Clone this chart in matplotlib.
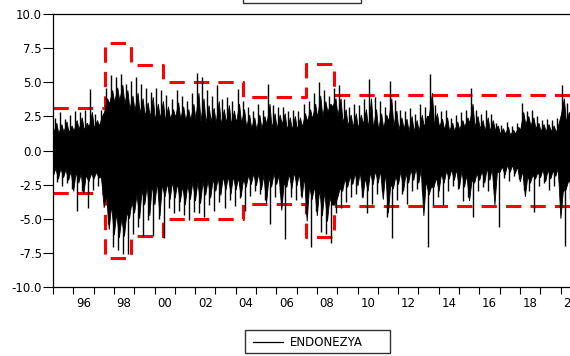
import numpy as np
import matplotlib
matplotlib.use("Agg")
import matplotlib.pyplot as plt
from matplotlib.patches import Rectangle

# quarterly envelope of the daily return series
start_year = 1995.0
# largest spike in each quarter
spike_up = [2.4, 2.8, 2.3, 2.6,  2.9, 2.8, 3.0, 4.5,  2.7, 3.0, 4.6, 5.5,
            5.4, 5.6, 4.9, 5.1,  5.4, 4.9, 4.6, 4.3,  4.6, 4.4, 4.1, 3.8,
            4.4, 4.0, 3.6, 4.2,  5.7, 5.4, 4.4, 4.0,  4.8, 3.8, 3.9, 3.6,
            4.5, 3.6, 3.2, 2.9,  3.4, 3.0, 4.9, 3.3,  3.2, 3.2, 2.9, 3.0,
            2.9, 3.4, 3.6, 4.2,  5.0, 4.4, 4.0, 4.6,  4.8, 3.8, 3.2, 3.4,
            3.3, 3.8, 5.25, 3.9, 3.6, 3.2, 5.1, 3.7,  3.0, 2.9, 3.1, 2.7,
            3.4, 3.2, 5.6, 3.3,  2.9, 3.0, 2.4, 2.6,  2.8, 3.0, 4.6, 3.0,
            2.7, 3.0, 2.7, 2.0,  1.9, 2.1, 1.8, 2.0,  3.5, 2.9, 3.0, 2.5,
            2.2, 2.3, 2.2, 2.4,  4.8, 3.5]
spike_dn = [-2.3, -2.6, -2.4, -2.8,  -4.4, -3.0, -4.2, -2.9,  -2.6, -2.4, -5.4, -7.1,
            -7.3, -7.6, -7.6, -6.1,  -5.6, -6.3, -5.1, -6.3,  -5.0, -6.4, -4.2, -4.6,
            -4.4, -4.7, -5.1, -4.5,  -4.6, -4.9, -4.0, -4.4,  -3.8, -4.2, -3.6, -4.1,
            -3.5, -4.4, -3.3, -3.0,  -3.2, -3.6, -5.4, -3.4,  -3.1, -6.5, -3.4, -3.6,
            -3.3, -4.6, -7.1, -4.4,  -6.0, -6.1, -6.8, -4.6,  -4.2, -3.8, -3.4, -3.2,
            -3.4, -4.6, -3.9, -3.2,  -3.0, -4.9, -6.4, -3.6,  -3.2, -3.9, -3.0, -2.8,
            -3.0, -7.1, -4.0, -3.4,  -4.0, -3.0, -2.6, -2.8,  -3.7, -3.4, -4.9, -3.0,
            -2.7, -3.0, -2.8, -5.6,  -2.0, -2.2, -1.9, -2.1,  -2.9, -3.0, -4.5, -2.6,
            -2.4, -2.9, -2.6, -2.3,  -7.0, -3.5]
# second-tier spikes in each quarter
mid_up = [2.0, 1.9, 2.1, 1.8,  2.2, 2.4, 2.0, 2.8,  2.2, 2.5, 3.8, 4.4,
          4.6, 4.8, 4.4, 4.0,  4.2, 3.8, 3.5, 3.9,  3.4, 3.6, 3.2, 3.0,
          3.5, 3.2, 3.0, 3.4,  4.2, 3.8, 3.3, 3.1,  3.6, 3.0, 3.3, 2.9,
          3.4, 3.0, 2.6, 2.4,  2.6, 2.5, 3.4, 2.7,  2.6, 2.7, 2.4, 2.5,
          2.4, 2.7, 3.0, 3.4,  4.0, 3.6, 3.4, 3.8,  3.8, 3.0, 2.6, 2.7,
          2.6, 3.0, 3.8, 3.0,  2.7, 2.6, 3.8, 2.9,  2.4, 2.3, 2.5, 2.2,
          2.6, 2.5, 4.2, 2.7,  2.3, 2.4, 2.0, 2.1,  2.2, 2.4, 3.4, 2.5,
          2.2, 2.4, 2.2, 1.8,  1.6, 1.7, 1.5, 1.7,  2.8, 2.5, 2.4, 2.0,
          1.9, 1.9, 1.8, 2.0,  3.8, 2.8]
mid_dn = [-1.9, -2.1, -2.0, -2.2,  -3.0, -2.4, -3.2, -2.3,  -2.1, -2.0, -4.2, -5.8,
          -6.2, -6.4, -6.3, -5.0,  -4.6, -5.0, -4.0, -4.8,  -4.0, -4.8, -3.4, -3.6,
          -3.5, -3.8, -4.0, -3.6,  -3.7, -3.9, -3.3, -3.5,  -3.0, -3.3, -2.9, -3.2,
          -2.9, -3.4, -2.7, -2.5,  -2.6, -2.9, -3.9, -2.7,  -2.5, -4.4, -2.7, -2.8,
          -2.6, -3.5, -5.2, -3.6,  -4.8, -4.8, -5.2, -4.0,  -3.5, -3.0, -2.7, -2.5,
          -2.6, -3.5, -3.0, -2.5,  -2.4, -3.6, -4.6, -2.8,  -2.5, -3.0, -2.4, -2.2,
          -2.4, -4.8, -3.3, -2.7,  -3.0, -2.4, -2.1, -2.2,  -2.8, -2.7, -3.7, -2.4,
          -2.2, -2.4, -2.2, -4.0,  -1.6, -1.8, -1.6, -1.7,  -2.3, -3.4, -2.4, -2.1,
          -2.0, -2.3, -2.1, -1.9,  -5.0, -2.9]
# dense band of everyday moves
core_up = [1.3, 1.2, 1.3, 1.3,  1.4, 1.5, 1.5, 1.7,  1.6, 1.8, 2.8, 3.4,
           3.5, 3.6, 3.4, 3.0,  2.9, 2.7, 2.5, 2.4,  2.2, 2.3, 2.2, 2.3,
           2.4, 2.3, 2.2, 2.2,  2.3, 2.1, 2.0, 2.1,  2.0, 1.9, 2.0, 1.9,
           2.0, 2.0, 1.7, 1.6,  1.5, 1.6, 1.9, 1.6,  1.6, 1.9, 1.5, 1.5,
           1.5, 1.7, 2.1, 2.3,  2.4, 2.5, 2.8, 3.2,  2.5, 2.0, 1.8, 1.7,
           1.6, 1.9, 1.6, 1.6,  1.5, 1.6, 2.1, 1.8,  1.5, 1.6, 1.4, 1.4,
           1.4, 1.7, 2.5, 1.9,  1.7, 1.5, 1.4, 1.4,  1.5, 1.7, 2.0, 1.7,
           1.6, 1.4, 1.4, 1.5,  1.2, 1.2, 1.1, 1.2,  1.5, 1.9, 1.8, 1.6,
           1.4, 1.4, 1.4, 1.3,  2.6, 2.1]
core_dn = [-1.3, -1.3, -1.4, -1.5,  -1.6, -1.7, -1.8, -1.7,  -1.6, -2.0, -3.2, -4.0,
           -4.6, -5.0, -4.6, -3.8,  -3.2, -2.9, -2.6, -2.5,  -2.3, -2.5, -2.4, -2.3,
           -2.4, -2.6, -2.5, -2.3,  -2.3, -2.3, -2.2, -2.1,  -2.0, -1.9, -1.9, -1.9,
           -2.0, -2.1, -1.8, -1.7,  -1.7, -1.8, -2.0, -1.7,  -1.8, -2.4, -1.7, -1.6,
           -1.7, -1.9, -2.6, -2.6,  -2.8, -3.0, -3.5, -4.0,  -2.8, -2.1, -1.9, -1.7,
           -1.6, -2.0, -1.6, -1.5,  -1.5, -1.6, -2.5, -1.9,  -1.5, -1.7, -1.4, -1.3,
           -1.4, -2.2, -2.7, -2.0,  -1.7, -1.5, -1.4, -1.4,  -1.5, -1.8, -2.2, -1.7,
           -1.5, -1.3, -1.3, -1.6,  -1.2, -1.1, -1.1, -1.2,  -1.5, -1.9, -1.8, -1.6,
           -1.4, -1.4, -1.5, -1.3,  -3.0, -2.3]

# volatility regime bands (+/- level)
regime_breaks = [1995.0, 1997.56, 1998.84, 2000.42, 2004.36, 2007.46, 2008.84, 2020.75]
regime_levels = [3.15, 7.85, 6.3, 5.0, 3.9, 6.37, 4.1]

year_ticks = list(range(1995, 2021))
year_labels = ["96", "98", "00", "02", "04", "06", "08", "10", "12", "14", "16", "18", "20"]
y_ticks = [-10.0, -7.5, -5.0, -2.5, 0.0, 2.5, 5.0, 7.5, 10.0]
series_name = "ENDONEZYA"

plt.rcParams["font.family"] = ["DejaVu Sans"]
W, H = 570, 356
fig = plt.figure(figsize=(W / 100, H / 100), dpi=100)
x0, x1 = 1995.0, 2020.75
ax_w = (x1 - x0) * 20.3
ax = fig.add_axes([53 / W, (H - 287) / H, ax_w / W, 273 / H])

q = start_year + 0.25 * np.arange(len(spike_up))

# red dashed bands
lv = regime_levels + [regime_levels[-1]]
for sgn in (1, -1):
    ax.step(regime_breaks, [sgn * v for v in lv], where="post", color="#ff0000",
            lw=2.2, linestyle=(0, (5, 3)), zorder=2)

# series: jagged dense mass (core <-> second-tier peaks) + largest spikes
ux = np.column_stack([q + 0.04, q + 0.19]).ravel()
uy = np.column_stack([core_up, mid_up]).ravel()
lx_ = np.column_stack([q + 0.02, q + 0.14]).ravel()
ly_ = np.column_stack([mid_dn, core_dn]).ravel()
px = np.concatenate([[x0], ux, [2020.55, 2020.55], lx_[::-1], [x0]])
py = np.concatenate([[core_up[0]], uy, [core_up[-1], core_dn[-1]], ly_[::-1], [core_dn[0]]])
ax.fill(px, py, color="black", lw=0.6, ec="black", zorder=3)
ax.vlines(q + 0.09, 0, spike_up, color="black", lw=1.0, zorder=3)
ax.vlines(q + 0.2, spike_dn, 0, color="black", lw=1.0, zorder=3)

ax.set_xlim(x0, x1)
ax.set_ylim(-10, 10)
ax.set_yticks(y_ticks)
ax.set_yticklabels(["%.1f" % v for v in y_ticks])
ax.set_xticks(year_ticks)
ax.set_xticklabels([])
ax.set_xticks([y + 1.5 for y in range(1995, 2020, 2)], minor=True)
ax.set_xticklabels(year_labels, minor=True)
ax.tick_params(axis="x", which="major", direction="out", length=5, width=0.8)
ax.tick_params(axis="x", which="minor", length=0, pad=7, labelsize=8.5)
ax.tick_params(axis="y", direction="out", length=7, width=0.8, pad=1, labelsize=8.5)
for s in ax.spines.values():
    s.set_linewidth(0.9)

# bottom legend box
bx, by, bw, bh = 245, 330, 145, 23
fig.patches.append(Rectangle((bx / W, (H - by - bh) / H), bw / W, bh / H,
                             transform=fig.transFigure, fill=False, lw=1.0, ec="#333333"))
fig.lines.append(plt.Line2D([253 / W, 283 / W], [(H - 342) / H] * 2,
                            transform=fig.transFigure, color="black", lw=0.9))
fig.text(290 / W, (H - 342) / H, series_name, fontsize=8.5, va="center", ha="left")

# cut-off box at the top
fig.patches.append(Rectangle((243 / W, (H - 3) / H), 118 / W, 10 / H,
                             transform=fig.transFigure, fill=False, lw=1.0, ec="#333333"))

fig.savefig("out.png", dpi=100)
